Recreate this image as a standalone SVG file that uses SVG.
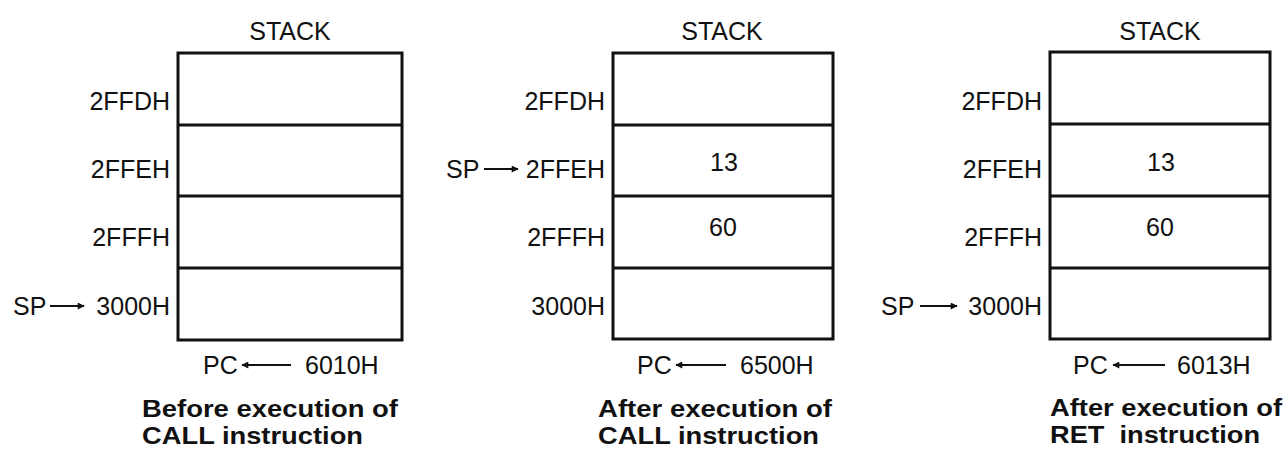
<svg xmlns="http://www.w3.org/2000/svg" width="1286" height="450" viewBox="0 0 1286 450">
<defs>
<style>
.box{fill:#fff;stroke:#111;stroke-width:3}
.div{stroke:#111;stroke-width:3}
text{font-family:"Liberation Sans",Arial,sans-serif;fill:#111}
.lbl{font-size:25px}
.r{text-anchor:end}
.m{text-anchor:middle}
.cap{font-size:24px;font-weight:bold;white-space:pre}
.arr{stroke:#111;stroke-width:2;fill:none}
</style>
<marker id="ah" viewBox="0 0 10 10" refX="9" refY="5" markerWidth="11" markerHeight="7" markerUnits="userSpaceOnUse" orient="auto"><path d="M0,0 L10,5 L0,10 z" fill="#111"/></marker>
</defs>
<rect width="1286" height="450" fill="#fff"/>

<g id="stack1">
<text class="lbl m" x="290" y="40">STACK</text>
<rect class="box" x="178" y="53" width="224" height="287"/>
<line class="div" x1="178" y1="125" x2="402" y2="125"/>
<line class="div" x1="178" y1="196" x2="402" y2="196"/>
<line class="div" x1="178" y1="268" x2="402" y2="268"/>
<text class="lbl r" x="170" y="110">2FFDH</text>
<text class="lbl r" x="170" y="178">2FFEH</text>
<text class="lbl r" x="170" y="246">2FFFH</text>
<text class="lbl r" x="170" y="315">3000H</text>
<text class="lbl" x="13" y="315">SP</text>
<text class="lbl" x="203" y="374">PC</text>
<text class="lbl" x="305" y="374">6010H</text>
<text class="cap" x="142" y="417" textLength="256" lengthAdjust="spacingAndGlyphs">Before execution of</text>
<text class="cap" x="142" y="444" textLength="221" lengthAdjust="spacingAndGlyphs">CALL instruction</text>
</g>

<g id="stack2">
<text class="lbl m" x="722" y="40">STACK</text>
<rect class="box" x="613" y="53" width="220" height="286"/>
<line class="div" x1="613" y1="125" x2="833" y2="125"/>
<line class="div" x1="613" y1="196" x2="833" y2="196"/>
<line class="div" x1="613" y1="268" x2="833" y2="268"/>
<text class="lbl r" x="605" y="110">2FFDH</text>
<text class="lbl r" x="605" y="178">2FFEH</text>
<text class="lbl r" x="605" y="246">2FFFH</text>
<text class="lbl r" x="605" y="315">3000H</text>
<text class="lbl m" x="724" y="171">13</text>
<text class="lbl m" x="723" y="236">60</text>
<text class="lbl" x="446" y="178">SP</text>
<text class="lbl" x="637" y="374">PC</text>
<text class="lbl" x="740" y="374">6500H</text>
<text class="cap" x="598" y="417" textLength="234" lengthAdjust="spacingAndGlyphs">After execution of</text>
<text class="cap" x="598" y="444" textLength="221" lengthAdjust="spacingAndGlyphs">CALL instruction</text>
</g>

<g id="stack3">
<text class="lbl m" x="1160" y="40">STACK</text>
<rect class="box" x="1050" y="52" width="220" height="287"/>
<line class="div" x1="1050" y1="124" x2="1270" y2="124"/>
<line class="div" x1="1050" y1="196" x2="1270" y2="196"/>
<line class="div" x1="1050" y1="268" x2="1270" y2="268"/>
<text class="lbl r" x="1042" y="110">2FFDH</text>
<text class="lbl r" x="1042" y="178">2FFEH</text>
<text class="lbl r" x="1042" y="246">2FFFH</text>
<text class="lbl r" x="1042" y="315">3000H</text>
<text class="lbl m" x="1161" y="171">13</text>
<text class="lbl m" x="1160" y="236">60</text>
<text class="lbl" x="881" y="315">SP</text>
<text class="lbl" x="1073" y="374">PC</text>
<text class="lbl" x="1177" y="374">6013H</text>
<text class="cap" x="1050" y="416" textLength="232" lengthAdjust="spacingAndGlyphs">After execution of</text>
<text class="cap" x="1050" y="443" textLength="210" lengthAdjust="spacingAndGlyphs" xml:space="preserve">RET  instruction</text>
</g>

<g id="connectors">
<line class="arr" x1="50" y1="306" x2="84" y2="306" marker-end="url(#ah)"/>
<line class="arr" x1="484" y1="169" x2="518" y2="169" marker-end="url(#ah)"/>
<line class="arr" x1="920" y1="306" x2="957" y2="306" marker-end="url(#ah)"/>
<line class="arr" x1="291" y1="365" x2="242" y2="365" marker-end="url(#ah)"/>
<line class="arr" x1="726" y1="365" x2="676" y2="365" marker-end="url(#ah)"/>
<line class="arr" x1="1165" y1="365" x2="1113" y2="365" marker-end="url(#ah)"/>
</g>
</svg>
